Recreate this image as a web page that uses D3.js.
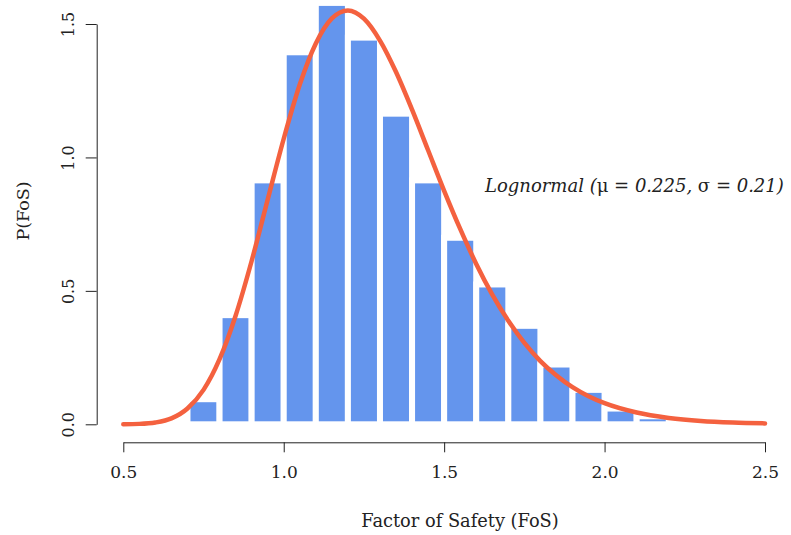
<!DOCTYPE html>
<html>
<head>
<meta charset="utf-8">
<script src="https://cdn.jsdelivr.net/npm/d3@7"></script>
<style>
  body { margin: 0; background: #fff; }
  svg text { font-family: "DejaVu Serif", serif; fill: #222; }
</style>
</head>
<body>
<div id="chart"></div>
<script>
// histogram bins (centre of each 0.1 wide bin) and densities
const binCentres = [0.75, 0.85, 0.95, 1.05, 1.15, 1.25, 1.35, 1.45, 1.55, 1.65, 1.75, 1.85, 1.95, 2.05, 2.15];
const binDensity = [0.094, 0.409, 0.914, 1.394, 1.579, 1.449, 1.164, 0.914, 0.699, 0.524, 0.369, 0.224, 0.129, 0.059, 0.03];

// fitted lognormal curve
const curveX = [0.5, 0.55, 0.6, 0.65, 0.7, 0.75, 0.8, 0.85, 0.9, 0.95, 1.0, 1.05, 1.1, 1.15, 1.2, 1.25, 1.3, 1.35, 1.4, 1.45,
  1.5, 1.55, 1.6, 1.65, 1.7, 1.75, 1.8, 1.85, 1.9, 1.95, 2.0, 2.1, 2.2, 2.3, 2.4, 2.5];
const curveY = [0.0003, 0.0016, 0.0068, 0.022, 0.059, 0.129, 0.244, 0.407, 0.612, 0.842, 1.070, 1.273, 1.427, 1.521, 1.551, 1.520, 1.438, 1.320, 1.179, 1.027,
  0.875, 0.732, 0.601, 0.486, 0.388, 0.305, 0.237, 0.183, 0.139, 0.105, 0.079, 0.044, 0.024, 0.0125, 0.0065, 0.0034];

const xTicks = [0.5, 1.0, 1.5, 2.0, 2.5];
const yTicks = [0.0, 0.5, 1.0, 1.5];
const binWidth = 0.1;

const W = 791, H = 535;
const svg = d3.select("#chart").append("svg").attr("width", W).attr("height", H);

const x = d3.scaleLinear().domain([0.5, 2.5]).range([123.3, 765]);
const y = d3.scaleLinear().domain([0, 1.5]).range([424.3, 24]);

// bars, white border gives the gaps
svg.selectAll(".bar")
  .data(binCentres.map((c, i) => ({ c, v: binDensity[i] })))
  .enter().append("rect")
  .attr("class", "bar")
  .attr("x", d => x(d.c - binWidth / 2))
  .attr("width", d => x(d.c + binWidth / 2) - x(d.c - binWidth / 2))
  .attr("y", d => y(d.v))
  .attr("height", d => y(0) - y(d.v))
  .attr("fill", "#6495ED")
  .attr("stroke", "#fff")
  .attr("stroke-width", 6);

// density curve
const line = d3.line().x(d => x(d[0])).y(d => y(d[1])).curve(d3.curveMonotoneX);
svg.append("path")
  .datum(curveX.map((v, i) => [v, curveY[i]]))
  .attr("d", line)
  .attr("fill", "none")
  .attr("stroke", "#F4613F")
  .attr("stroke-width", 4.5)
  .attr("stroke-linecap", "round");

// x axis
const xAxisY = 442.3;
const gx = svg.append("g")
  .attr("transform", `translate(0,${xAxisY})`)
  .call(d3.axisBottom(x).tickValues(xTicks).tickFormat(d3.format(".1f")).tickSize(10).tickSizeOuter(0).tickPadding(14))
  .attr("font-family", null).attr("font-size", null);
gx.select(".domain").attr("stroke", "#222");
gx.selectAll(".tick line").attr("stroke", "#222");
gx.selectAll(".tick text").attr("font-size", 17).attr("fill", "#222");

// y axis (labels parallel to axis)
const yAxisX = 96.7;
const gy = svg.append("g")
  .attr("transform", `translate(${yAxisX},0)`)
  .call(d3.axisLeft(y).tickValues(yTicks).tickFormat(d3.format(".1f")).tickSize(11).tickSizeOuter(0))
  .attr("font-family", null).attr("font-size", null);
gy.select(".domain").attr("stroke", "#222");
gy.selectAll(".tick line").attr("stroke", "#222");
gy.selectAll(".tick text")
  .attr("font-size", 16).attr("fill", "#222")
  .attr("x", null)
  .attr("text-anchor", "middle")
  .attr("transform", "translate(-28,0) rotate(-90)")
  .attr("dy", "0.35em");

// axis titles
svg.append("text")
  .attr("x", 460).attr("y", 527)
  .attr("text-anchor", "middle")
  .attr("font-size", 17.8)
  .text("Factor of Safety (FoS)");

svg.append("text")
  .attr("transform", "translate(29,211) rotate(-90)")
  .attr("text-anchor", "middle")
  .attr("font-size", 17.5)
  .text("P(FoS)");

// annotation
const ann = svg.append("text")
  .attr("x", 485).attr("y", 192)
  .attr("font-size", 18);
ann.append("tspan").attr("font-style", "italic").text("Lognormal (");
ann.append("tspan").text("\u03bc");
ann.append("tspan").attr("font-style", "italic").text(" = 0.225, ");
ann.append("tspan").text("\u03c3");
ann.append("tspan").attr("font-style", "italic").text(" = 0.21)");
</script>
</body>
</html>
